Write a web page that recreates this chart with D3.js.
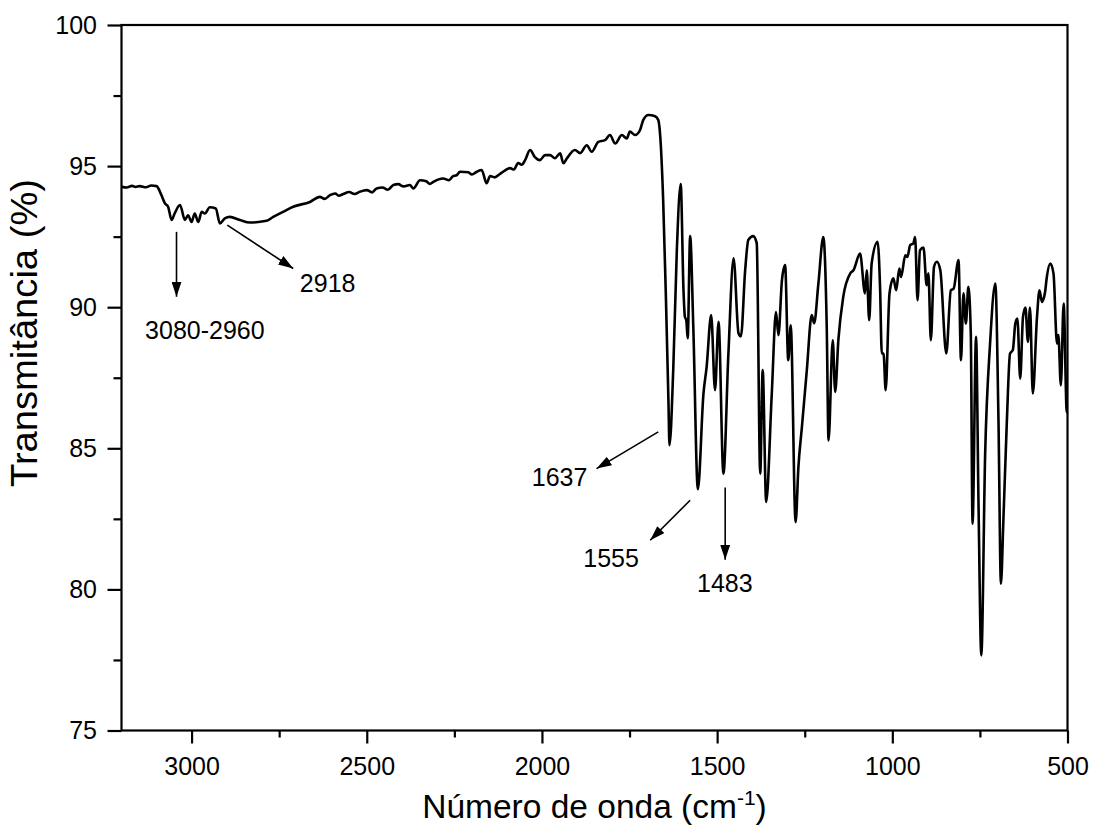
<!DOCTYPE html>
<html>
<head>
<meta charset="utf-8">
<script src="https://cdn.jsdelivr.net/npm/d3@7/dist/d3.min.js"></script>
<style>
  html, body { margin: 0; padding: 0; background: #fff; }
  svg { display: block; }
  text { font-family: "Liberation Sans", Arial, sans-serif; fill: #000; }
</style>
</head>
<body>
<svg id="chart" width="1095" height="826"></svg>
<script>
// ---- Data ----
const wavenumber = [
  3200,3185,3170,3160,3148,3130,3115,3100,3086,3076,
  3067,3057,3048,3033,3019,3010,3000,2991,2981,2971,
  2962,2948,2931,2919,2905,2891,2862,2834,2786,2767,
  2739,2710,2662,2634,2620,2605,2590,2580,2567,2550,
  2535,2520,2500,2485,2472,2455,2440,2424,2410,2395,
  2377,2367,2348,2330,2320,2310,2295,2282,2265,2255,
  2243,2234,2210,2200,2186,2172,2158,2148,2135,2120,
  2105,2091,2080,2068,2058,2048,2034,2020,2006,1991,
  1977,1963,1948,1939,1929,1906,1891,1872,1858,1839,
  1820,1806,1791,1772,1758,1749,1734,1720,1711,1696,
  1677,1668,1663,1654,1646,1639,1636,1625,1615,1604,
  1596,1592,1588,1584,1577,1568,1555,1539,1530,1517,1506,1496,1482,
  1468,1453,1439,1432,1420,1411,1397,1387,1377,1370,1360,1344,1332,1325,1315,1306,1297,1290,1276,1268,
  1258,1244,1230,1223,1211,1197,1187,1182,1170,1163,1154,1140,1120,1111,1092,1078,1073,1066,1059,1042,
  1035,1030,1025,1019,1008,997,989,980,975,963,957,949,940,935,928,921,911,902,897,890,
  881,873,863,846,833,825,811,804,797,790,783,776,771,761,754,746,735,721,706,697,
  690,683,673,664,656,649,643,635,627,620,613,607,599,587,580,573,564,559,549,540,
  530,526,519,511,502,500
];
const transmittance = [
  94.27,94.24,94.30,94.26,94.29,94.25,94.31,94.29,93.97,93.68,
  93.56,93.09,93.33,93.62,93.09,93.26,93.02,93.32,93.02,93.38,
  93.32,93.54,93.50,92.97,93.15,93.20,93.09,93.00,93.06,93.20,
  93.38,93.56,93.73,93.91,93.84,93.97,94.03,93.95,94.01,94.08,
  94.01,94.09,94.15,94.07,94.21,94.24,94.16,94.33,94.36,94.28,
  94.33,94.21,94.50,94.46,94.37,94.44,94.53,94.56,94.50,94.63,
  94.68,94.80,94.78,94.70,94.80,94.86,94.39,94.65,94.60,94.72,
  94.85,94.93,94.88,95.11,95.05,95.21,95.57,95.32,95.21,95.39,
  95.39,95.28,95.45,95.10,95.27,95.57,95.46,95.74,95.51,95.86,
  95.92,96.10,95.80,96.10,95.98,96.22,96.10,96.28,96.63,96.81,
  96.77,96.63,96.16,93.79,90.25,86.70,85.11,87.88,92.02,94.36,
  90.60,89.66,89.54,88.90,92.52,89.30,83.55,86.94,87.88,89.72,87.06,89.48,84.10,
  88.30,91.73,89.08,88.97,91.31,92.38,92.52,92.27,84.10,87.77,83.10,86.94,89.83,89.01,90.96,91.49,88.12,89.36,82.38,84.34,
  85.76,87.77,89.72,89.43,90.84,92.49,89.18,85.28,88.83,87.00,88.83,90.37,91.20,91.31,91.90,90.49,91.31,89.54,91.55,92.32,
  90.72,88.36,88.36,87.06,90.49,91.02,90.60,91.37,91.07,91.84,91.78,92.20,92.26,92.49,90.25,92.02,92.11,90.78,91.20,88.83,
  91.43,91.61,91.31,88.36,90.60,90.66,91.67,88.12,90.49,89.42,90.72,89.07,82.33,88.95,83.05,77.66,84.82,88.71,90.84,85.99,
  80.20,82.45,85.99,88.36,88.48,89.42,89.60,87.47,89.66,89.99,88.77,89.99,86.94,89.66,90.60,90.19,90.54,91.07,91.55,91.20,
  88.71,89.01,87.23,90.13,86.28,86.30
];

const xMajorTicks = [3000, 2500, 2000, 1500, 1000, 500];
const xMinorTicks = [2750, 2250, 1750, 1250, 750];
const yMajorTicks = [75, 80, 85, 90, 95, 100];
const yMinorTicks = [77.5, 82.5, 87.5, 92.5, 97.5];

// annotation labels with arrow start/end and label anchor, in data units
const annLabels = ["3080-2960", "2918", "1637", "1555", "1483"];
const annArrowFrom = [[3043, 92.67], [2898, 92.91], [1668, 85.58], [1577, 83.16], [1477, 83.61]];
const annArrowTo   = [[3043, 90.37], [2710, 91.37], [1844, 84.28], [1691, 81.74], [1477, 81.05]];
const annTextAt    = [[2962, 88.87], [2691, 90.53], [2029, 83.65], [1882, 80.79], [1478, 79.90]];
const annAnchor    = ["middle", "start", "start", "start", "middle"];

const xTitle = "Número de onda (cm";
const yTitle = "Transmitância (%)";

// ---- Layout ----
const mLeft = 121.5, mRight = 1067.5, mTop = 25, mBottom = 730.5;

const svg = d3.select("#chart");
const x = d3.scaleLinear().domain([3200, 500]).range([mLeft, mRight]);
const y = d3.scaleLinear().domain([75, 100]).range([mBottom, mTop]);

const axisStroke = 2.2;

const gxMaj = svg.append("g").attr("transform", `translate(0,${mBottom})`)
  .call(d3.axisBottom(x).tickValues(xMajorTicks).tickSize(13).tickPadding(13.5).tickFormat(d3.format("d")));
const gxMin = svg.append("g").attr("transform", `translate(0,${mBottom})`)
  .call(d3.axisBottom(x).tickValues(xMinorTicks).tickSize(7).tickFormat(""));
const gyMaj = svg.append("g").attr("transform", `translate(${mLeft},0)`)
  .call(d3.axisLeft(y).tickValues(yMajorTicks).tickSize(14).tickPadding(10.5).tickFormat(d3.format("d")));
const gyMin = svg.append("g").attr("transform", `translate(${mLeft},0)`)
  .call(d3.axisLeft(y).tickValues(yMinorTicks).tickSize(8).tickFormat(""));

[gxMaj, gxMin, gyMaj, gyMin].forEach(g => {
  g.select(".domain").remove();
  g.selectAll(".tick line").attr("stroke", "#000").attr("stroke-width", axisStroke);
  g.selectAll(".tick text").attr("font-size", 25).attr("font-family", "Liberation Sans, Arial, sans-serif").attr("fill", "#000");
});

svg.append("rect")
  .attr("x", mLeft).attr("y", mTop)
  .attr("width", mRight - mLeft).attr("height", mBottom - mTop)
  .attr("fill", "none").attr("stroke", "#000").attr("stroke-width", axisStroke);

const data = wavenumber.map((w, i) => [w, transmittance[i]]);
const line = d3.line().x(d => x(d[0])).y(d => y(d[1])).curve(d3.curveMonotoneX);
svg.append("path")
  .datum(data)
  .attr("d", line)
  .attr("fill", "none")
  .attr("stroke", "#000")
  .attr("stroke-width", 2.6)
  .attr("stroke-linejoin", "round");

const defs = svg.append("defs");
defs.append("marker")
  .attr("id", "ah").attr("viewBox", "0 0 15 10")
  .attr("refX", 15).attr("refY", 5)
  .attr("markerWidth", 15).attr("markerHeight", 10)
  .attr("markerUnits", "userSpaceOnUse")
  .attr("orient", "auto")
  .append("path").attr("d", "M0,0 L15,5 L0,10 Z").attr("fill", "#000");

annLabels.forEach((lab, i) => {
  const [x1, y1] = annArrowFrom[i], [x2, y2] = annArrowTo[i];
  svg.append("line")
    .attr("x1", x(x1)).attr("y1", y(y1))
    .attr("x2", x(x2)).attr("y2", y(y2))
    .attr("stroke", "#000").attr("stroke-width", 1.6)
    .attr("marker-end", "url(#ah)");
  const [tx, ty] = annTextAt[i];
  svg.append("text")
    .attr("x", x(tx)).attr("y", y(ty))
    .attr("text-anchor", annAnchor[i])
    .attr("font-size", 25)
    .text(lab);
});

const xt = svg.append("text")
  .attr("x", (mLeft + mRight) / 2).attr("y", 818)
  .attr("text-anchor", "middle")
  .attr("font-size", 33.5);
xt.append("tspan").text(xTitle);
xt.append("tspan").attr("dy", -13).attr("font-size", 21).text("-1");
xt.append("tspan").attr("dy", 13).text(")");

svg.append("text")
  .attr("transform", `translate(37,333) rotate(-90)`)
  .attr("text-anchor", "middle")
  .attr("font-size", 36)
  .attr("textLength", 308)
  .attr("lengthAdjust", "spacingAndGlyphs")
  .text(yTitle);
</script>
</body>
</html>
